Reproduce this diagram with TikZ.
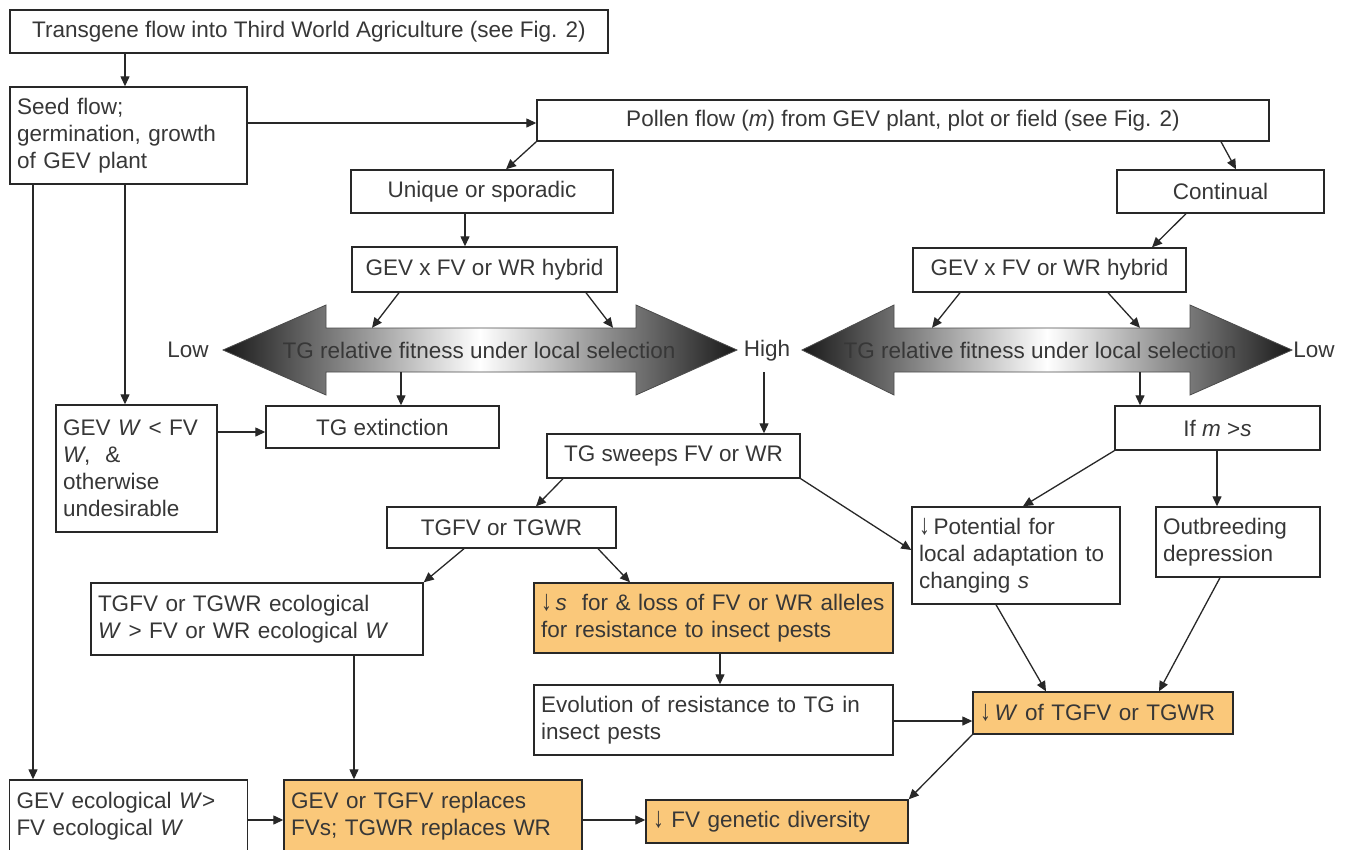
\documentclass[tikz,border=0pt]{standalone}
\usepackage{fontspec}
\setmainfont{Liberation Sans}
\usetikzlibrary{arrows.meta}
\definecolor{orng}{RGB}{250,200,122}
\definecolor{ln}{RGB}{40,40,40}
\definecolor{txt}{RGB}{55,55,55}
\newcommand{\dnarr}{\resizebox{0.48em}{0.72em}{↓}}
\begin{document}
\begin{tikzpicture}[x=1pt,y=-1pt,
 box/.style={draw=ln, line width=1.4pt, fill=white, text=txt, inner xsep=7pt, inner ysep=0pt,
   font=\fontsize{22.5}{27}\selectfont, align=center},
 lbox/.style={box, align=left},
 obox/.style={fill=orng},
 arr/.style={-{Triangle[length=10pt,width=9pt]}, draw=ln, line width=1.3pt},
 dbl/.style={draw=black!70, line width=0.8pt, left color=black!90, right color=black!90, middle color=white},
 lab/.style={text=txt, font=\fontsize{22.5}{27}\selectfont, inner sep=0pt}]
\useasboundingbox (0,0) rectangle (1346,849);
\clip (0,0) rectangle (1346,849);
\fill[white] (0,0) rectangle (1346,849);

% double arrows
\path[dbl] (223,350) -- (326,305) -- (326,328) -- (636,328) -- (636,305) -- (737,350) -- (636,395) -- (636,372) -- (326,372) -- (326,395) -- cycle;
\path[dbl] (802,350) -- (894,305) -- (894,328) -- (1190,328) -- (1190,305) -- (1292,350) -- (1190,395) -- (1190,372) -- (894,372) -- (894,395) -- cycle;
\node[lab, minimum width=310pt, minimum height=44pt] (dblL) at (479,350) {TG relative fitness under local selection};
\node[lab, minimum width=296pt, minimum height=44pt] (dblR) at (1040,350) {TG relative fitness under local selection};
\node[lab] (lowL) at (188,350) {Low};
\node[lab] (high) at (767,351) {High};
\node[lab] (lowR) at (1314,350) {Low};

% boxes
\node[box, minimum width=598pt, minimum height=43pt] (top) at (309,31.5) {Transgene flow into Third World Agriculture (see Fig. 2)};
\node[lbox, text width=223pt, minimum height=97pt] (seed) at (128.5,135.5) {Seed flow;\\germination, growth\\of GEV plant};
\node[box, minimum width=732pt, minimum height=41pt] (pollen) at (903,120.5) {Pollen flow (\textit{m}) from GEV plant, plot or field (see Fig. 2)};
\node[box, minimum width=262pt, minimum height=43pt] (unique) at (482,191.5) {Unique or sporadic};
\node[box, minimum width=207pt, minimum height=43pt] (continual) at (1220.5,191.5) {Continual};
\node[box, minimum width=265pt, minimum height=45pt] (hybL) at (484.5,269.5) {GEV x FV or WR hybrid};
\node[box, minimum width=273pt, minimum height=44pt] (hybR) at (1049.5,270) {GEV x FV or WR hybrid};
\node[box, minimum width=233pt, minimum height=42pt] (ext) at (382.5,427) {TG extinction};
\node[lbox, text width=147pt, minimum height=127pt] (gevw) at (136.5,468.5) {GEV \textit{W} < FV\\\textit{W}, \ \&\\otherwise\\undesirable};
\node[box, minimum width=253pt, minimum height=44pt] (sweeps) at (673.5,456) {TG sweeps FV or WR};
\node[box, minimum width=205pt, minimum height=44pt] (ifms) at (1217.5,428) {If \textit{m} >\textit{s}};
\node[box, minimum width=229pt, minimum height=41pt] (tgfv) at (501.5,527.5) {TGFV or TGWR};
\node[lbox, text width=194pt, minimum height=97pt] (potential) at (1016,555.5) {\dnarr\,Potential for\\local adaptation to\\changing \textit{s}};
\node[lbox, text width=150pt, minimum height=70pt] (outbreed) at (1238,542) {Outbreeding\\depression};
\node[lbox, text width=318pt, minimum height=72pt] (tgfveco) at (257,619) {TGFV or TGWR ecological\\\textit{W} > FV or WR ecological \textit{W}};
\node[lbox, obox, text width=345pt, minimum height=70pt] (lossS) at (713.5,618) {\dnarr\,\textit{s}\ \ for \& loss of FV or WR alleles\\for resistance to insect pests};
\node[lbox, text width=345pt, minimum height=70pt] (evol) at (713.5,720) {Evolution of resistance to TG in\\insect pests};
\node[lbox, obox, text width=246pt, minimum height=42pt] (downW) at (1103,713) {\dnarr\,\textit{W} of TGFV or TGWR};
\node[lbox, text width=224pt, minimum height=72pt] (gevEco) at (128.5,816) {GEV ecological \textit{W}>\\FV ecological \textit{W}};
\node[lbox, obox, text width=284pt, minimum height=72pt] (replaces) at (433,816) {GEV or TGFV replaces\\FVs; TGWR replaces WR};
\node[lbox, obox, text width=248pt, minimum height=43pt] (fvdiv) at (777,821.5) {\dnarr\ FV genetic diversity};

% connectors
\draw[arr] (125,0 |- top.south) -- (125,0 |- seed.north);
\draw[arr] (seed.east |- 0,123) -- (pollen.west |- 0,123);
\draw[arr] (pollen.south west) -- (506,0 |- unique.north);
\draw[arr] (1221,0 |- pollen.south) -- (1236,0 |- continual.north);
\draw[arr] (465,0 |- unique.south) -- (465,0 |- hybL.north);
\draw[arr] (1186,0 |- continual.south) -- (1152,0 |- hybR.north);
\draw[arr] (399,0 |- hybL.south) -- (372,0 |- dblL.north);
\draw[arr] (586,0 |- hybL.south) -- (613,0 |- dblL.north);
\draw[arr] (960,0 |- hybR.south) -- (932,0 |- dblR.north);
\draw[arr] (1108,0 |- hybR.south) -- (1140,0 |- dblR.north);
\draw[arr] (401,0 |- dblL.south) -- (401,0 |- ext.north);
\draw[arr] (1140,0 |- dblR.south) -- (1140,0 |- ifms.north);
\draw[arr] (764,0 |- dblL.south) -- (764,0 |- sweeps.north);
\draw[arr] (125,0 |- seed.south) -- (125,0 |- gevw.north);
\draw[arr] (33,0 |- seed.south) -- (33,0 |- gevEco.north);
\draw[arr] (gevw.east |- 0,432) -- (ext.west |- 0,432);
\draw[arr] (563,0 |- sweeps.south) -- (536,0 |- tgfv.north);
\draw[arr] (sweeps.south east) -- (potential.west |- 0,550);
\draw[arr] (ifms.south west) -- (1023,0 |- potential.north);
\draw[arr] (1217,0 |- ifms.south) -- (1217,0 |- outbreed.north);
\draw[arr] (464,0 |- tgfv.south) -- (tgfveco.north east);
\draw[arr] (598,0 |- tgfv.south) -- (630,0 |- lossS.north);
\draw[arr] (354,0 |- tgfveco.south) -- (354,0 |- replaces.north);
\draw[arr] (720,0 |- lossS.south) -- (720,0 |- evol.north);
\draw[arr] (evol.east |- 0,721) -- (downW.west |- 0,721);
\draw[arr] (996,0 |- potential.south) -- (1046,0 |- downW.north);
\draw[arr] (1220,0 |- outbreed.south) -- (1159,0 |- downW.north);
\draw[arr] (downW.south west) -- (fvdiv.north east);
\draw[arr] (gevEco.east |- 0,820) -- (replaces.west |- 0,820);
\draw[arr] (replaces.east |- 0,820) -- (fvdiv.west |- 0,820);
\end{tikzpicture}
\end{document}
